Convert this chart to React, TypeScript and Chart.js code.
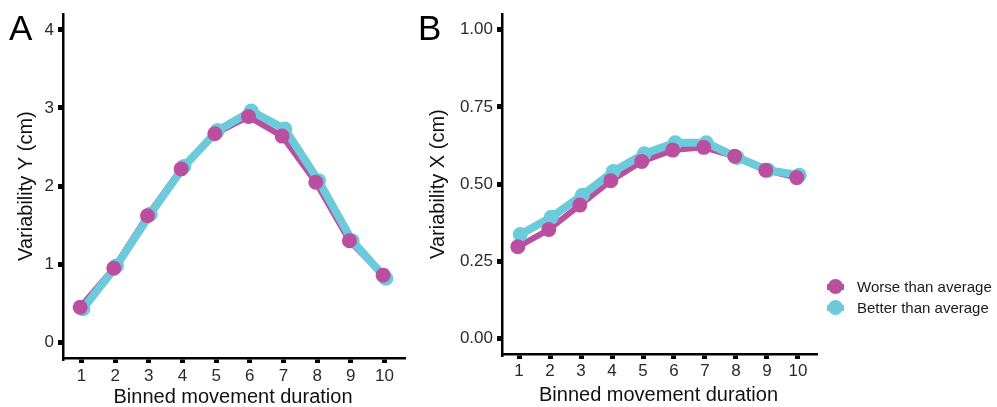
import React, { useEffect, useRef } from 'react';
import { Chart, registerables } from 'chart.js';
Chart.register(...registerables);

const FONT = '"Liberation Sans", Arial, Helvetica, sans-serif';

// ---- data ----
const bins = [1, 2, 3, 4, 5, 6, 7, 8, 9, 10];
const seriesNames = ['Worse than average', 'Better than average'];
const seriesColors = ['#BA4FA0', '#6BCBDB'];

const worseA = [0.45, 0.95, 1.62, 2.22, 2.67, 2.89, 2.64, 2.05, 1.30, 0.86];
const betterA = [0.43, 0.98, 1.64, 2.25, 2.71, 2.96, 2.73, 2.07, 1.30, 0.82];

const worseB = [0.297, 0.353, 0.432, 0.511, 0.573, 0.610, 0.619, 0.590, 0.545, 0.521];
const betterB = [0.337, 0.393, 0.464, 0.541, 0.598, 0.634, 0.634, 0.586, 0.545, 0.529];

const yTicksA = [0, 1, 2, 3, 4];
const yTickLabelsA = ['0', '1', '2', '3', '4'];
const yTicksB = [0, 0.25, 0.5, 0.75, 1];
const yTickLabelsB = ['0.00', '0.25', '0.50', '0.75', '1.00'];

const xTitle = 'Binned movement duration';
const yTitleA = 'Variability Y (cm)';
const yTitleB = 'Variability X (cm)';
const panelLabels = ['A', 'B'];

const DODGE = 0.04;

type PanelProps = {
  left: number;
  width: number;
  worse: number[];
  better: number[];
  yMin: number;
  yMax: number;
  yTicks: number[];
  yLabels: string[];
  yTitle: string;
  yAxisWidth: number;
  xAxisHeight: number;
  padRight: number;
  padTop: number;
  yTitlePad: number;
  xTitlePad: number;
  xTickPad: number;
};

function Panel(p: PanelProps) {
  const ref = useRef<HTMLCanvasElement | null>(null);
  useEffect(() => {
    if (!ref.current) return;
    const toPts = (vals: number[], off: number) => vals.map((v, i) => ({ x: bins[i] + off, y: v }));
    const wPts = toPts(p.worse, -DODGE);
    const bPts = toPts(p.better, DODGE);
    const chart = new Chart(ref.current, {
      type: 'scatter',
      data: {
        datasets: [
          { label: seriesNames[0], data: wPts, showLine: true, borderColor: seriesColors[0], borderWidth: 6, pointRadius: 0, borderJoinStyle: 'round', borderCapStyle: 'round', order: 4 } as any,
          { label: seriesNames[1], data: bPts, showLine: true, borderColor: seriesColors[1], borderWidth: 8, pointRadius: 0, borderJoinStyle: 'round', borderCapStyle: 'round', order: 3 } as any,
          { label: seriesNames[1], data: bPts, showLine: false, pointRadius: 7.5, backgroundColor: seriesColors[1], borderWidth: 0, order: 2 } as any,
          { label: seriesNames[0], data: wPts, showLine: false, pointRadius: 7.5, backgroundColor: seriesColors[0], borderWidth: 0, order: 1 } as any,
        ],
      },
      options: {
        responsive: false,
        animation: false,
        devicePixelRatio: 1,
        layout: { padding: { left: 0, right: p.padRight, top: p.padTop, bottom: 0 } },
        plugins: { legend: { display: false }, tooltip: { enabled: false } },
        scales: {
          x: {
            type: 'linear',
            min: 0.45,
            max: 10.55,
            afterBuildTicks: (s: any) => { s.ticks = bins.map((v) => ({ value: v })); },
            afterFit: (s: any) => { s.height = p.xAxisHeight; },
            ticks: { font: { family: FONT, size: 17, lineHeight: 1.2 }, color: '#2b2b2b', padding: p.xTickPad, autoSkip: false, maxRotation: 0, callback: (v: any) => String(v) },
            grid: { display: true, drawOnChartArea: false, drawTicks: true, tickLength: 5, lineWidth: 5, color: '#000' },
            border: { display: true, color: '#000', width: 2.5 },
            title: { display: true, text: xTitle, font: { family: FONT, size: 20, lineHeight: 1 }, color: '#111', padding: { top: 0, bottom: p.xTitlePad } },
          },
          y: {
            type: 'linear',
            min: p.yMin,
            max: p.yMax,
            afterBuildTicks: (s: any) => { s.ticks = p.yTicks.map((v) => ({ value: v })); },
            afterFit: (s: any) => { s.width = p.yAxisWidth; },
            ticks: { font: { family: FONT, size: 17, lineHeight: 1.2 }, color: '#2b2b2b', padding: 4, callback: (v: any) => p.yLabels[p.yTicks.indexOf(Number(v))] },
            grid: { display: true, drawOnChartArea: false, drawTicks: true, tickLength: 5, lineWidth: 5, color: '#000' },
            border: { display: true, color: '#000', width: 2.5 },
            title: { display: true, text: p.yTitle, font: { family: FONT, size: 20, lineHeight: 1 }, color: '#111', padding: { top: p.yTitlePad, bottom: 0 } },
          },
        },
      } as any,
    });
    return () => chart.destroy();
  }, []);
  return (
    <canvas
      ref={ref}
      width={p.width}
      height={407}
      style={{ position: 'absolute', left: p.left, top: 0, width: p.width, height: 407 }}
    />
  );
}

function LegendRow({ idx, top }: { idx: number; top: number }) {
  return (
    <div style={{ position: 'absolute', left: 826, top, height: 20, width: 171 }}>
      <div style={{ position: 'absolute', left: 1, top: 7, width: 17, height: 6, background: seriesColors[idx] }} />
      <div style={{ position: 'absolute', left: 2, top: 2, width: 15, height: 15, borderRadius: '50%', background: seriesColors[idx] }} />
      <div style={{ position: 'absolute', left: 31, top: 2, font: `15px ${FONT}`, lineHeight: '15px', color: '#1a1a1a', whiteSpace: 'nowrap' }}>
        {seriesNames[idx]}
      </div>
    </div>
  );
}

export default function App() {
  return (
    <div style={{ position: 'fixed', left: 0, top: 0, width: 997, height: 407, background: '#fff', overflow: 'hidden' }}>
      <Panel
        left={0} width={420} worse={worseA} better={betterA}
        yMin={-0.2} yMax={4.2} yTicks={yTicksA} yLabels={yTickLabelsA} yTitle={yTitleA}
        yAxisWidth={63} xAxisHeight={49} padRight={17} padTop={13}
        yTitlePad={16} xTitlePad={0} xTickPad={3}
      />
      <Panel
        left={420} width={410} worse={worseB} better={betterB}
        yMin={-0.05} yMax={1.05} yTicks={yTicksB} yLabels={yTickLabelsB} yTitle={yTitleB}
        yAxisWidth={82} xAxisHeight={53} padRight={15} padTop={12}
        yTitlePad={8} xTitlePad={2} xTickPad={2}
      />
      <div style={{ position: 'absolute', left: 9, top: 10, font: `35px ${FONT}`, lineHeight: '35px', color: '#000' }}>{panelLabels[0]}</div>
      <div style={{ position: 'absolute', left: 418, top: 10, font: `35px ${FONT}`, lineHeight: '35px', color: '#000' }}>{panelLabels[1]}</div>
      <LegendRow idx={0} top={277} />
      <LegendRow idx={1} top={298} />
    </div>
  );
}
